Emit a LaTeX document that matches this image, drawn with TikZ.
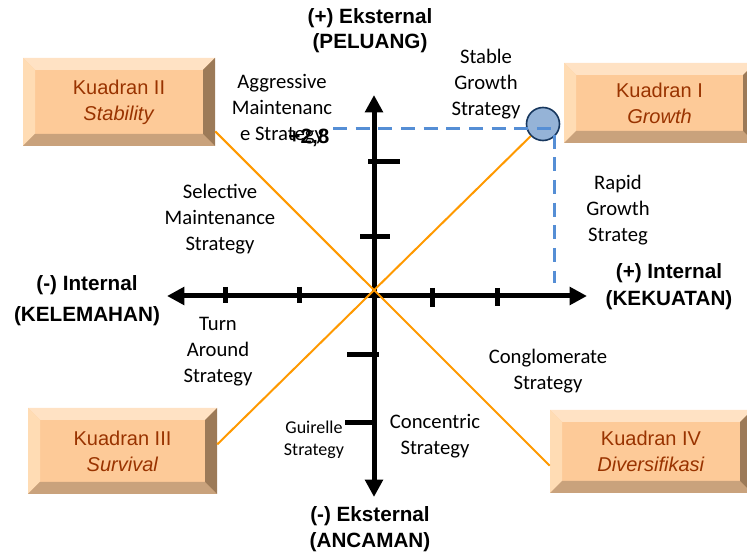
\documentclass[tikz,border=0pt]{standalone}
\usepackage{fontspec}
\setmainfont{Liberation Sans}
\newfontfamily\calibfont{Carlito}
\usepackage{tikz}
\usetikzlibrary{arrows.meta}

\definecolor{kface}{HTML}{FDCA98}
\definecolor{ktop}{HTML}{FFE2C4}
\definecolor{kleft}{HTML}{FFDCB4}
\definecolor{kright}{HTML}{9C7A58}
\definecolor{kbottom}{HTML}{C9A27C}
\definecolor{ktext}{HTML}{993300}
\definecolor{korange}{HTML}{FF9900}
\definecolor{kblue}{HTML}{558ED5}
\definecolor{kdot}{HTML}{95B3D7}
\definecolor{kdotline}{HTML}{17375E}

\def\pbb{path picture bounding box}

\tikzset{
  kuadran/.style={rectangle, fill=kface, text=ktext, align=center, inner sep=0pt,
    font=\fontsize{15}{19.5}\selectfont,
    path picture={
      \fill[ktop] (\pbb.north west) -- (\pbb.north east) -- ([shift={(-9pt,-9pt)}]\pbb.north east) -- ([shift={(9pt,-9pt)}]\pbb.north west) -- cycle;
      \fill[kleft] (\pbb.north west) -- (\pbb.south west) -- ([shift={(9pt,9pt)}]\pbb.south west) -- ([shift={(9pt,-9pt)}]\pbb.north west) -- cycle;
      \fill[kbottom] (\pbb.south west) -- (\pbb.south east) -- ([shift={(-9pt,9pt)}]\pbb.south east) -- ([shift={(9pt,9pt)}]\pbb.south west) -- cycle;
      \fill[kright] (\pbb.north east) -- (\pbb.south east) -- ([shift={(-9pt,9pt)}]\pbb.south east) -- ([shift={(-9pt,-9pt)}]\pbb.north east) -- cycle;
    }},
}

\begin{document}
\begin{tikzpicture}[x=0.75pt,y=-0.75pt,
    axis/.style={line width=3.75pt,{Triangle[length=13pt,width=13pt]}-{Triangle[length=13pt,width=13pt]}},
    axistick/.style={line width=3.75pt},
    diag/.style={draw=korange,line width=1.5pt},
    guide/.style={draw=kblue,line width=2.25pt,dash pattern=on 10.5pt off 6.5pt},
    dot/.style={circle,minimum size=24.75pt,inner sep=0pt,fill=kdot,draw=kdotline,line width=1.2pt},
    strat/.style={font=\calibfont\fontsize{15.5}{19.5}\selectfont,align=center},
    head/.style={font=\bfseries\fontsize{15.5}{19}\selectfont,align=center}]
  \useasboundingbox (0,0) rectangle (747,552);

  % kuadran boxes
  \node[kuadran,minimum width=144pt,minimum height=66pt] (k2) at (119,102) {Kuadran II\\\textit{Stability}};
  \node[kuadran,minimum width=143.25pt,minimum height=60pt] (k1) at (659.5,103) {Kuadran I\\\textit{Growth}};
  \node[kuadran,minimum width=141.75pt,minimum height=64.5pt] (k3) at (122.5,451) {Kuadran III\\\textit{Survival}};
  \node[kuadran,minimum width=151.5pt,minimum height=62.25pt] (k4) at (651,451.5) {Kuadran IV\\\textit{Diversifikasi}};

  % posisi
  \node[dot] (dot) at (543,124) {};
  \coordinate (gx) at (333,129);
  \coordinate (gc) at (554,129);
  \coordinate (gy) at (554,283);
  \draw[guide] (gx) -- (gc) -- (gy);

  % sumbu
  \coordinate (left) at (167,296);
  \coordinate (right) at (587,296);
  \coordinate (top) at (374,95);
  \coordinate (bottom) at (374,497);
  \draw[axis] (left) -- (right);
  \draw[axis] (bottom) -- (top);
  \foreach \x/\a/\b in {225/287/303, 299/287/303, 432/288/307, 497/288/306}
    \draw[axistick] (\x,\a) -- (\x,\b);
  \foreach \y/\a/\b in {162/368/400, 237/360/390, 355/347/379, 423/345/373}
    \draw[axistick] (\a,\y) -- (\b,\y);

  \draw[diag] (k2.-17) -- (k4.188);
  \draw[diag] (k3.4) -- (dot);

  % label sumbu
  \node[head] (peluang) at (370,30.5) {(+) Eksternal\\(PELUANG)};
  \node[head] (ancaman) at (370,529) {(-) Eksternal\\(ANCAMAN)};
  \node[head] (kelemahan) at (87,300.5) {(-) Internal\\[4pt](KELEMAHAN)};
  \node[head] (kekuatan) at (669,286.5) {(+) Internal\\[1pt](KEKUATAN)};

  % strategi
  \node[strat] (aggressive) at (282,109) {Aggressive\\Maintenanc\\e Strategy};
  \node[head,anchor=east] (nilai) at (334,138) {+2,8};
  \node[strat] (stable) at (486,84) {Stable\\Growth\\Strategy};
  \node[strat] (selective) at (220,219) {Selective\\Maintenance\\Strategy};
  \node[strat] (rapid) at (618,210) {Rapid\\Growth\\Strateg};
  \node[strat] (turn) at (218,352) {Turn\\Around\\Strategy};
  \node[strat] (conglomerate) at (548,371) {Conglomerate\\Strategy};
  \node[strat] (concentric) at (435,436) {Concentric\\Strategy};
  \node[strat,font=\calibfont\fontsize{13.5}{16.5}\selectfont] (guirelle) at (314,440) {Guirelle\\Strategy};
\end{tikzpicture}
\end{document}
